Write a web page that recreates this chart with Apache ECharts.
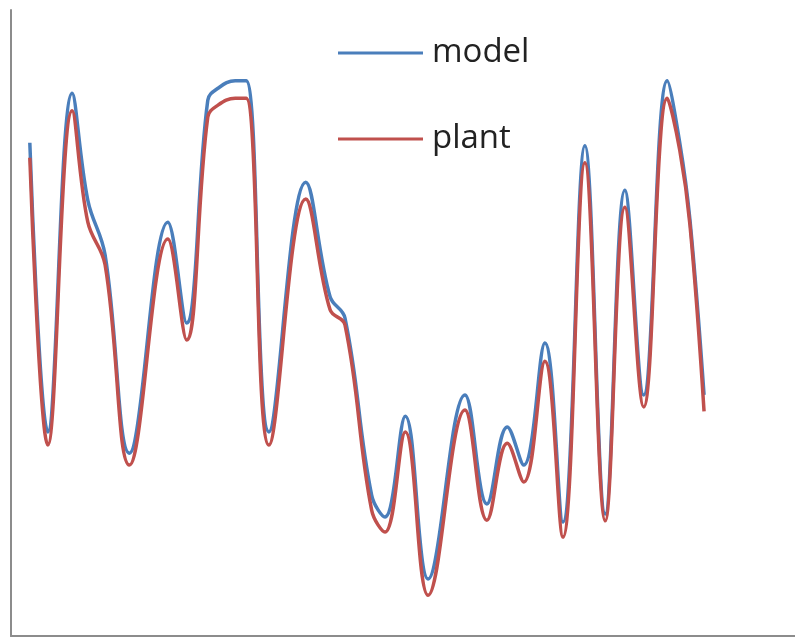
<!DOCTYPE html>
<html>
<head>
<meta charset="utf-8">
<script src="https://cdn.jsdelivr.net/npm/echarts@6/dist/echarts.min.js"></script>
<style>
html, body { margin: 0; padding: 0; background: #fff; }
#main { width: 795px; height: 638px; }
</style>
</head>
<body>
<div id="main"></div>
<script>
// sample positions (arbitrary time units 0..100)
var times = [2.4, 4.7, 7.8, 9.8, 12.0, 15.1, 20.0, 22.4, 25.1, 26.4, 28.6, 30.0, 32.9, 37.6, 40.7, 42.6,
  46.0, 47.7, 50.3, 53.2, 57.9, 60.7, 63.3, 65.4, 68.1, 70.4, 73.2, 75.8, 78.3, 80.7, 83.7, 85.3, 86.6, 88.4]

var model = [78.8, 32.6, 86.7, 69.6, 60.9, 29.2, 66.1, 50.0, 85.6, 87.5, 88.7, 88.7, 32.6, 72.5, 54.2, 50.8,
  22.5, 19.0, 35.1, 9.1, 38.5, 21.1, 33.4, 27.3, 46.8, 18.2, 78.3, 19.5, 71.2, 38.5, 88.7, 78.8, 66.5, 38.5]

var plant = [76.4, 30.5, 83.9, 66.1, 59.3, 27.3, 63.4, 47.3, 82.9, 84.8, 85.9, 85.9, 30.5, 69.8, 52.1, 49.7,
  20.1, 16.6, 32.6, 6.5, 36.1, 18.5, 30.8, 24.6, 43.9, 15.8, 75.6, 18.4, 68.5, 36.6, 85.9, 77.6, 65.7, 35.9]

function pairs(ys) {
  return ys.map(function (v, i) { return [times[i], v] })
}

var chart = echarts.init(document.getElementById('main'))
chart.setOption({
  backgroundColor: '#fff',
  animation: false,
  grid: { left: 11, right: 0, top: 10, bottom: 2 },
  legend: {
    orient: 'vertical',
    left: 333,
    top: 28,
    icon: 'rect',
    itemWidth: 85,
    itemHeight: 3,
    itemGap: 46,
    textStyle: { fontFamily: 'Open Sans', fontSize: 33, color: '#222', lineHeight: 40, padding: [0, 0, 0, 4] },
    data: ['model', 'plant']
  },
  xAxis: {
    type: 'value', min: 0, max: 100,
    axisLine: { show: true, lineStyle: { color: '#8c8c8c', width: 2 } },
    axisTick: { show: false }, axisLabel: { show: false }, splitLine: { show: false }
  },
  yAxis: {
    type: 'value', min: 0, max: 100,
    axisLine: { show: true, lineStyle: { color: '#8c8c8c', width: 2 } },
    axisTick: { show: false }, axisLabel: { show: false }, splitLine: { show: false }
  },
  series: [
    { name: 'model', type: 'line', data: pairs(model), smooth: 0.4, showSymbol: false,
      itemStyle: { color: '#4a7ebb' }, lineStyle: { color: '#4a7ebb', width: 3.5 } },
    { name: 'plant', type: 'line', data: pairs(plant), smooth: 0.4, showSymbol: false,
      itemStyle: { color: '#c0504d' }, lineStyle: { color: '#c0504d', width: 3.5 } }
  ]
})
</script>
</body>
</html>
